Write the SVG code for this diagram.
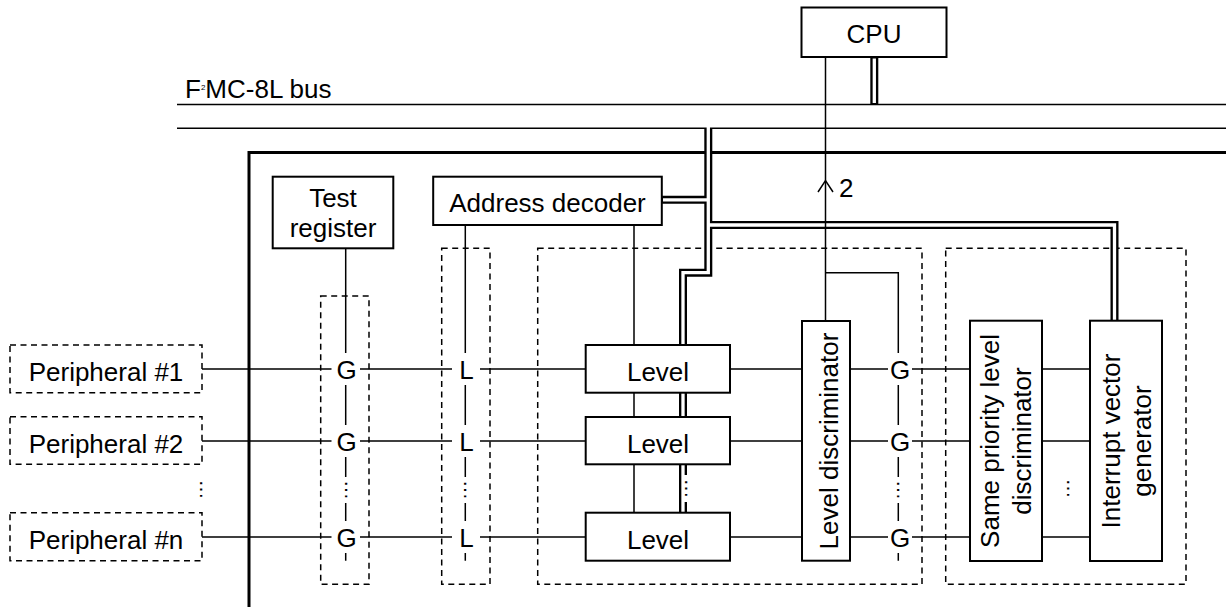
<svg xmlns="http://www.w3.org/2000/svg" width="1226" height="607" viewBox="0 0 1226 607">
<style>
text{font-family:"Liberation Sans",Arial,Helvetica,sans-serif;font-size:26px;fill:#000}
.c{text-anchor:middle}
.ln{stroke:#000;stroke-width:1.5;fill:none}
.blk{stroke:#000;stroke-width:3;fill:none}
.dash{stroke:#000;stroke-width:1.5;fill:none;stroke-dasharray:6 4.5}
.box{fill:#fff;stroke:#000;stroke-width:2}
.dbo{stroke:#000;stroke-width:8;fill:none;stroke-linejoin:miter}
.dbi{stroke:#fff;stroke-width:3.3;fill:none;stroke-linejoin:miter}
.dots{font-size:20px}
</style>
<rect width="1226" height="607" fill="#fff"/>

<g id="bus">
<line class="ln" x1="177" y1="104.5" x2="1226" y2="104.5"/>
<line class="ln" x1="177" y1="128.3" x2="1226" y2="128.3"/>
<text x="185" y="98">F<tspan font-size="8" dy="-8">2</tspan><tspan dy="8">MC-8L bus</tspan></text>
</g>

<g id="block">
<path class="blk" d="M249,607 V152.5 H1226"/>
</g>

<g id="groups">
<rect class="dash" x="320.7" y="296" width="48.3" height="288.3"/>
<rect class="dash" x="441.7" y="248.3" width="48.3" height="336"/>
<rect class="dash" x="537.7" y="248.3" width="384.3" height="336"/>
<rect class="dash" x="945.7" y="248.3" width="240.3" height="336"/>
</g>

<g id="connectors">
<g id="double-lines">
<path class="dbo" d="M708.3,128.3 V272.7 H683 V512.7"/>
<path class="dbo" d="M661.8,199.8 H708.3"/>
<path class="dbo" d="M708.3,225 H1114.5 V320.7"/>
<path class="dbo" d="M874.3,57 V104.3"/>
<path class="dbi" d="M708.3,126 V272.7 H683 V512.7"/>
<path class="dbi" d="M663,199.8 H708.3"/>
<path class="dbi" d="M708.3,225 H1114.5 V320.7"/>
<path class="dbi" d="M874.3,58.5 V103"/>
<rect x="682.6" y="475" width="6.5" height="27" fill="#fff"/>
</g>
<path class="ln" d="M202,369 H331.5 M360,369 H452 M480,369 H585.7 M730,369 H802 M850,369 H888 M912,369 H970 M1042,369 H1090"/>
<path class="ln" d="M202,441 H331.5 M360,441 H452 M480,441 H585.7 M730,441 H802 M850,441 H888 M912,441 H970 M1042,441 H1090"/>
<path class="ln" d="M202,537 H331.5 M360,537 H452 M480,537 H585.7 M730,537 H802 M850,537 H888 M912,537 H970 M1042,537 H1090"/>
<path class="ln" d="M345.7,248.3 V353 M345.7,385 V425 M345.7,457 V477 M345.7,503 V521 M345.7,553 V560.7"/>
<path class="ln" d="M465.3,225 V353 M465.3,385 V425 M465.3,457 V477 M465.3,503 V521 M465.3,553 V560.7"/>
<path class="ln" d="M825.5,272.7 H898.3 V353 M898.3,385 V425 M898.3,457 V477 M898.3,503 V521 M898.3,553 V560.7"/>
<path class="ln" d="M634,225 V345 M634,392.7 V417 M634,464.3 V512.7"/>
<path class="ln" d="M825.5,57 V321"/>
<polyline class="ln" points="818,192 825.5,180.5 833,192"/>
<text x="839" y="196.5">2</text>
<g id="ellipses">
<text class="dots c" transform="translate(345.7,490) rotate(90)" y="1">…</text>
<text class="dots c" transform="translate(465.3,490) rotate(90)" y="1">…</text>
<text class="dots c" transform="translate(898.3,490) rotate(90)" y="1">…</text>
<text class="dots c" transform="translate(685.8,488.5) rotate(90)" y="1">…</text>
<text class="dots c" transform="translate(200.5,489.5) rotate(90)" y="1">…</text>
<text class="dots c" transform="translate(1067.7,488.5) rotate(90)" y="1">…</text>
</g>
</g>

<g id="cpu"><rect class="box" x="801.5" y="7.5" width="145" height="49.5"/><text class="c" x="874" y="43">CPU</text></g>
<g id="test-register"><rect class="box" x="272.7" y="176.7" width="120.6" height="71.6"/><text class="c" x="333" y="207">Test</text><text class="c" x="333" y="237">register</text></g>
<g id="address-decoder"><rect class="box" x="433.2" y="176.7" width="228.6" height="48.3"/><text class="c" x="547.5" y="212">Address decoder</text></g>

<g id="peripheral-1"><rect class="dash" x="10" y="345" width="192" height="47.7"/><text class="c" x="106" y="380.5">Peripheral #1</text></g>
<g id="peripheral-2"><rect class="dash" x="10" y="416.7" width="192" height="47.6"/><text class="c" x="106" y="452.5">Peripheral #2</text></g>
<g id="peripheral-n"><rect class="dash" x="10" y="512.7" width="192" height="48"/><text class="c" x="106" y="548.5">Peripheral #n</text></g>

<g id="g-1"><text class="c" x="346.5" y="379">G</text></g>
<g id="g-2"><text class="c" x="346.5" y="451">G</text></g>
<g id="g-n"><text class="c" x="346.5" y="547">G</text></g>
<g id="l-1"><text class="c" x="466.5" y="379">L</text></g>
<g id="l-2"><text class="c" x="466.5" y="451">L</text></g>
<g id="l-n"><text class="c" x="466.5" y="547">L</text></g>

<g id="level-1"><rect class="box" x="585.7" y="345" width="144.3" height="47.7"/><text class="c" x="658" y="380.5">Level</text></g>
<g id="level-2"><rect class="box" x="585.7" y="417" width="144.3" height="47.3"/><text class="c" x="658" y="452.5">Level</text></g>
<g id="level-n"><rect class="box" x="585.7" y="512.7" width="144.3" height="48"/><text class="c" x="658" y="548.5">Level</text></g>

<g id="level-discriminator"><rect class="box" x="802" y="321" width="48" height="239.7"/><text class="c" transform="translate(838,441) rotate(-90)">Level discriminator</text></g>

<g id="g2-1"><text class="c" x="900" y="379">G</text></g>
<g id="g2-2"><text class="c" x="900" y="451">G</text></g>
<g id="g2-n"><text class="c" x="900" y="547">G</text></g>

<g id="same-priority-level-discriminator"><rect class="box" x="970" y="320.7" width="72" height="240.3"/><text class="c" transform="translate(999,441) rotate(-90)">Same priority level</text><text class="c" transform="translate(1030.5,441) rotate(-90)">discriminator</text></g>
<g id="interrupt-vector-generator"><rect class="box" x="1090" y="320.7" width="72" height="240.3"/><text class="c" transform="translate(1120,441) rotate(-90)">Interrupt vector</text><text class="c" transform="translate(1151,441) rotate(-90)">generator</text></g>
</svg>
